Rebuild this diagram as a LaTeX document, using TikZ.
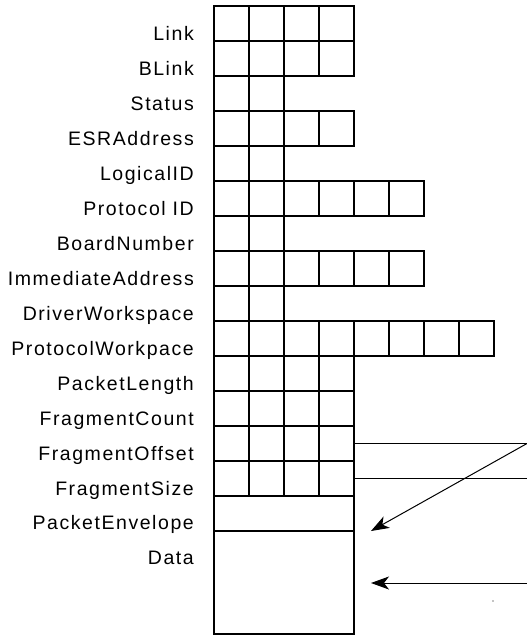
\documentclass[tikz,border=0pt]{standalone}
\usepackage{fontspec}
\setmainfont{Liberation Sans}
\newfontfamily\fieldfont[LetterSpace=8]{Liberation Sans}
\usetikzlibrary{arrows.meta}

\begin{document}
\begin{tikzpicture}[x=1pt, y=-1pt,
    cell/.style={draw, line width=1.4pt, minimum width=35pt, minimum height=35pt, inner sep=0pt, outer sep=0pt},
    field/.style={anchor=base east, inner sep=0pt, font=\fieldfont\fontsize{19.5}{20}\selectfont},
    wire/.style={line width=1.1pt},
    pointer/.style={line width=1pt, -{Stealth[length=18pt, width=13pt, inset=5pt]}}]
  \useasboundingbox (0,0) rectangle (527,637);

  % Header fields, one row each
  \foreach \name/\n [count=\i from 0] in {Link/4, BLink/4, Status/2, ESRAddress/4, LogicalID/2, Protocol ID/6, BoardNumber/2, ImmediateAddress/6, DriverWorkspace/2, ProtocolWorkpace/8, PacketLength/4, FragmentCount/4, FragmentOffset/4, FragmentSize/4}{
    \node[field] (f\i) at (194, 40+35*\i) {\name};
    \foreach \c in {1,...,\n}
      \node[cell] (c\i-\c) at (196.5+35*\c, 23.5+35*\i) {};
  }

  % Envelope and data
  \node[field] (f14) at (194, 529) {PacketEnvelope};
  \node[cell, minimum width=140pt] (envelope) at (284, 513.5) {};
  \node[field] (f15) at (194, 564) {Data};
  \node[cell, minimum width=140pt, minimum height=103pt, anchor=north] (data) at (284, 531) {};

  % Fragment pointers
  \coordinate (offset end) at (527, 443.5);
  \coordinate (size end) at (527, 478.5);
  \coordinate (envelope tip) at (371, 531);
  \coordinate (data start) at (527, 583);
  \coordinate (data tip) at (371, 583);
  \draw[wire] (c12-4.east) -- (offset end);
  \draw[wire] (c13-4.east) -- (size end);
  \draw[pointer] (offset end) -- (envelope tip);
  \draw[pointer] (data start) -- (data tip);
  \fill (493,601) circle (0.6pt);
\end{tikzpicture}
\end{document}
